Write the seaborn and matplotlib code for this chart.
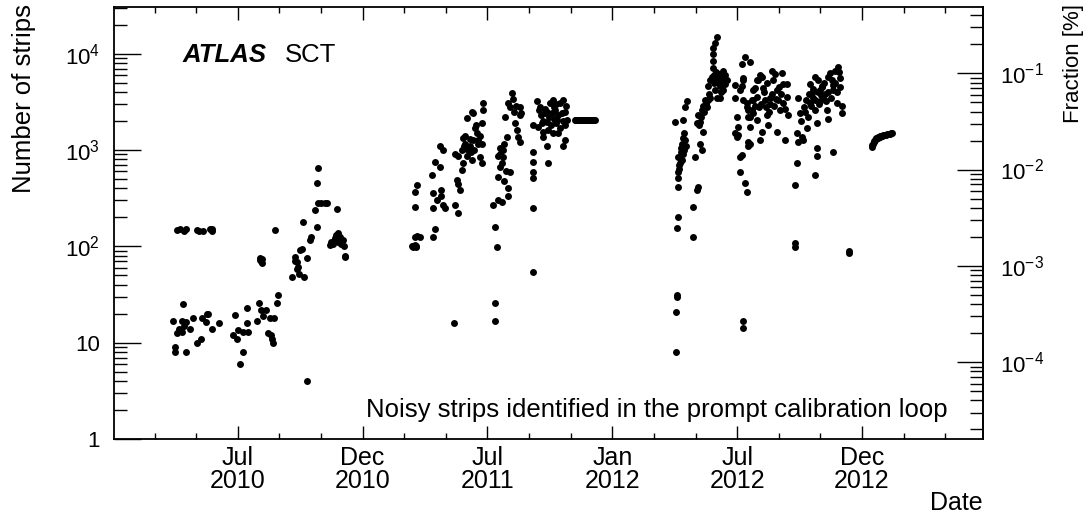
# ATLAS SCT - noisy strips found by the prompt calibration loop

import numpy as np
import pandas as pd
import seaborn as sns
import matplotlib.pyplot as plt
from matplotlib.ticker import FuncFormatter, FixedLocator, LogLocator, NullFormatter

sns.set_style('ticks')
plt.rcParams['font.family'] = ['Liberation Sans', 'DejaVu Sans']
plt.rcParams['mathtext.default'] = 'regular'
plt.rcParams['axes.unicode_minus'] = False
plt.rcParams['text.color'] = 'black'
plt.rcParams['xtick.color'] = 'black'
plt.rcParams['ytick.color'] = 'black'
plt.rcParams['axes.labelcolor'] = 'black'

# ---------------------------------------------------------
# Data: day counted from 2010-01-01, number of noisy strips
# ---------------------------------------------------------

days_2010 = [92, 96, 103, 105, 121, 125, 130, 140, 143, 144,
             87, 89, 89, 92, 95, 99, 100, 101, 103, 105, 106, 111, 115, 121, 127, 128,
             134, 136, 137, 143, 153,
             174, 177, 180, 181, 184, 188, 188, 194, 194, 196, 209, 212, 215, 218, 223,
             225, 228, 230, 231, 232, 234, 238, 240,
             213, 214, 215, 216, 217, 235, 282,
             261, 264, 265, 267, 268, 269, 270, 272, 275, 276, 278, 283, 286, 288, 294,
             297, 297, 298, 299, 303, 308, 312, 316, 318, 320, 320, 322, 323, 324, 326,
             326, 327, 328, 330, 330, 332, 335, 336, 338, 338]
strips_2010 = [148, 150, 146, 150, 148, 146, 145, 150, 146, 152,
               17, 9, 8, 12.6, 14, 17, 13, 25, 15, 16.4, 8, 14, 18, 10, 11, 18,
               16.4, 20, 20, 14, 16,
               12, 19.4, 11, 13.6, 6, 8, 13, 23, 16, 13, 17, 26, 22, 19, 22,
               12.6, 18, 12, 11, 10, 18, 26, 31,
               76, 72, 70, 68, 74, 148, 4,
               48, 78, 70, 69, 58, 61, 52, 92, 94, 179, 48, 76, 117, 125, 240,
               455, 158, 650, 282, 285, 282, 280, 103, 110, 111, 106, 115, 122, 130, 245,
               120, 138, 112, 125, 118, 105, 117, 100, 80, 78]

days_2011 = [436, 437, 438, 440, 441, 442, 440, 447, 443, 440, 440, 443,
             465, 466, 466, 466, 469, 469, 472, 477, 477, 479, 479, 481, 481, 484,
             497,
             499, 503, 501, 503, 506, 509, 510, 503, 499, 509, 510, 513, 516, 518, 520,
             523, 525, 528, 525, 523, 516, 535, 538, 538, 538, 539, 539, 532, 531,
             512, 514, 520, 522, 527, 530, 533, 536,
             554, 557, 560, 557, 557, 561, 567, 576, 576, 561, 564, 567, 569, 561, 564,
             569, 575, 579, 572, 579, 582, 576, 586, 589, 591, 594, 594, 595, 594,
             565, 570, 573, 571, 585, 588, 583,
             613, 613, 613, 613, 613, 613, 613, 618, 620, 623, 626, 627, 627, 630, 633,
             633, 635, 637, 640, 642, 645, 648, 649, 652, 655, 657, 657, 659, 662, 659,
             642, 635,
             625, 628, 631, 636, 639, 644, 646, 650, 653, 656, 660, 661, 647, 643, 634, 622,
             674, 675, 676, 678, 679, 680, 682, 683, 685, 686, 688, 689, 691, 692, 694,
             695, 697, 698, 700, 701, 703]
strips_2011 = [100, 98, 102, 104, 99, 101, 125, 125, 128, 256, 370, 435,
               550, 125, 250, 360, 150, 750, 300, 1090, 670, 385, 330, 1000, 270, 250,
               16,
               270, 220, 490, 440, 385, 620, 730, 860, 900, 1000, 1330, 1170, 860, 1000, 1090,
               790, 1270, 1690, 2420, 2500, 2150, 850, 1170, 730, 1900, 3050, 2600, 1270, 1500,
               1100, 1400, 1300, 950, 1000, 1800, 1150, 1400,
               270, 160, 98, 26, 17, 300, 290, 400, 330, 525, 670, 730, 850, 860, 1050,
               1000, 1370, 590, 2200, 2820, 3900, 3050, 1900, 1620, 1370, 1200, 2300, 2400, 2820,
               900, 1150, 600, 480, 2500, 2900, 3400,
               250, 54, 950, 750, 590, 510, 1820, 3200, 1750, 2820, 1900, 1540, 1370, 2420, 1960,
               1090, 730, 3050, 2420, 3300, 2600, 2050, 1500, 3050, 2420, 3300, 1090, 1270, 2050, 1820,
               1500, 1620,
               2300, 2000, 2700, 2200, 1800, 2100, 1900, 2300, 1700, 2000, 2500, 2900, 3000, 2800, 2500, 2600,
               2040, 2050, 2060, 2050, 2040, 2050, 2060, 2050, 2050, 2040, 2050, 2050, 2060, 2050, 2050,
               2040, 2050, 2050, 2050, 2050, 2040]

days_2012 = [822, 822, 823, 823, 823, 825, 825, 825, 825, 828, 828, 831, 832, 825, 831,
             832, 835, 820, 832, 835, 838,
             826, 827, 829, 830, 833, 834, 836,
             847, 847, 850, 853, 854, 857, 860, 861, 853, 854, 857, 860, 861, 864, 867,
             869, 872, 869, 872, 874, 876, 876, 876, 876, 879, 882, 879, 882, 883, 886,
             889, 891, 893, 896, 891, 886,
             877, 878, 880, 881, 884, 885, 887, 888, 890, 892, 894, 870, 866, 863, 859, 856,
             908, 911, 911, 912, 915, 918, 923, 926, 918, 923, 930, 920, 915, 920, 926,
             927, 930, 930, 933, 934, 937, 940, 940, 920, 920,
             908, 908, 912, 915, 918, 920, 926, 927, 927, 927, 930, 933, 934, 934, 937,
             942, 945, 945, 948, 948, 949, 952, 955, 955, 956, 959, 962, 964, 967, 970,
             970, 971, 974, 977, 978, 981, 984, 986,
             950, 953, 958, 960, 963, 966, 968, 972, 975, 979, 982, 985, 940, 943, 946,
             996, 996, 996, 999, 999, 1000, 1000, 1003, 1006, 1008, 1011, 1013, 1015, 1018,
             1018, 1021, 1022, 1025, 1025, 1025, 1028, 1028, 1028, 1030, 1032, 1032, 1035,
             1037, 1040, 1043, 1044, 1044, 1047, 1050, 1051, 1051, 1054, 1057, 1059, 1062,
             1062, 1065, 1065,
             1005, 1009, 1012, 1016, 1019, 1023, 1026, 1029, 1031, 1034, 1036, 1039, 1041,
             1045, 1048, 1052, 1055, 1058, 1060,
             1075, 1075]
strips_2012 = [8, 21, 30, 31, 155, 200, 410, 510, 590, 730, 850, 790, 900, 850, 1170,
               1330, 1270, 1960, 2050, 2820, 3200,
               640, 700, 950, 1050, 1000, 1500, 1100,
               256, 125, 850, 385, 410, 1170, 1000, 1540, 1900, 2300, 1960, 2600, 2900, 3300, 2820,
               3300, 3500, 4600, 5300, 5700, 7100, 8500, 10000, 11500, 13000, 15000, 4200, 3500, 5300, 4600,
               5700, 6600, 4900, 5300, 4200, 3500,
               6000, 5000, 5500, 6500, 5000, 6200, 5200, 4000, 5000, 5600, 6000, 3800, 3000, 2500, 2200, 1800,
               4700, 2200, 1370, 1750, 590, 890, 455, 370, 7900, 9300, 8300, 5600, 4200, 3300, 2820,
               2200, 1750, 1170, 2600, 3300, 4400, 5300, 2050, 16.8, 14.2,
               3500, 1500, 1450, 850, 4600, 5300, 3050, 2600, 1200, 1100, 2200, 3300, 4200, 2420, 2900,
               5300, 6000, 1270, 1540, 5700, 4400, 3300, 5000, 2300, 1820, 3500, 6600, 5300, 6200, 4200,
               1540, 3300, 2600, 6300, 4900, 1270, 4800, 2300,
               4000, 2800, 2500, 3000, 3800, 2900, 3400, 4500, 3800, 3100, 2700, 3600, 3600, 2800, 3000,
               98, 108, 435, 730, 1500, 1200, 3500, 2420, 1370, 1270, 2500, 1700, 2200, 3050,
               4900, 3900, 3500, 5700, 2600, 550, 1050, 860, 1900, 5300, 4200, 3200, 4600,
               3500, 3800, 2600, 2100, 5700, 6300, 5300, 4700, 950, 6600, 3050, 7300, 5600,
               4500, 2900, 2420,
               2000, 2800, 3300, 3800, 2900, 4300, 3300, 4000, 3000, 3700, 4500, 5000, 3200,
               4000, 3500, 4200, 5000, 4000, 6500,
               86, 90]

days_2013 = [1108, 1109, 1110, 1111, 1112, 1113, 1114, 1115, 1116, 1117, 1118, 1119, 1120,
             1121, 1122, 1123, 1124, 1125, 1126, 1127, 1129, 1131, 1133, 1135, 1137, 1138]
strips_2013 = [1080, 1130, 1170, 1210, 1250, 1280, 1300, 1320, 1340, 1350, 1360, 1370, 1380,
               1390, 1400, 1405, 1410, 1420, 1430, 1440, 1450, 1460, 1470, 1480, 1490, 1500]

tick_labels = ['Jul\n2010', 'Dec\n2010', 'Jul\n2011', 'Jan\n2012', 'Jul\n2012', 'Dec\n2012']

TOTAL_STRIPS = 6279168

frames = []
for d, n in [(days_2010, strips_2010), (days_2011, strips_2011),
             (days_2012, strips_2012), (days_2013, strips_2013)]:
    frames.append(pd.DataFrame({'day': d, 'strips': n}))
df = pd.concat(frames, ignore_index=True)
df['date'] = pd.to_datetime(df['day'], unit='D', origin='2010-01-01')

# ---------------------------------------------------------
# Plot
# ---------------------------------------------------------

fig = plt.figure(figsize=(10.92, 5.18), dpi=100)
ax = fig.add_axes([114 / 1092, 79 / 518, 869 / 1092, 432 / 518])

sns.scatterplot(data=df, x='date', y='strips', ax=ax, color='black',
                s=25, linewidth=0, legend=False)

ax.set_yscale('log')
ax.set_ylim(1, 3.06e4)
ax.set_xlim(pd.Timestamp('2010-01-01'), pd.Timestamp('2013-06-25'))
ax.set_xlabel('')
ax.set_ylabel('')

# ROOT style time axis: evenly spaced divisions
start = pd.Timestamp('2010-07-01')
step = pd.Timedelta(days=182.6)
ax.set_xticks([start + step * k for k in range(6)])
ax.set_xticklabels(tick_labels)
ax.set_xticks([start + step * (k / 3) for k in range(-2, 18) if k % 3 != 0], minor=True)
for lbl in ax.get_xticklabels():
    lbl.set_linespacing(0.95)

ax.yaxis.set_major_locator(LogLocator(base=10))
ax.yaxis.set_minor_locator(LogLocator(base=10, subs=np.arange(2, 10)))
ax.yaxis.set_major_formatter(FuncFormatter(
    lambda v, p: '1' if v == 1 else ('10' if v == 10 else f'$10^{{{int(round(np.log10(v)))}}}$')))
ax.yaxis.set_minor_formatter(NullFormatter())

ax.tick_params(axis='x', which='major', direction='in', length=9.5, width=1,
               top=True, bottom=True, labelsize=18, pad=5)
ax.tick_params(axis='x', which='minor', direction='in', length=4.5, width=1,
               top=True, bottom=True)
ax.tick_params(axis='y', which='major', direction='in', length=19.5, width=1,
               left=True, right=False, labelsize=16, pad=10)
ax.tick_params(axis='y', which='minor', direction='in', length=9.5, width=1,
               left=True, right=False)

for sp in ax.spines.values():
    sp.set_color('black')
    sp.set_linewidth(1.3)

# right axis: fraction of all SCT strips
sec = ax.secondary_yaxis('right', functions=(lambda n: n / TOTAL_STRIPS * 100,
                                             lambda f: f * TOTAL_STRIPS / 100))
sec.yaxis.set_major_locator(FixedLocator([1e-4, 1e-3, 1e-2, 1e-1]))
sec.yaxis.set_minor_locator(LogLocator(base=10, subs=np.arange(2, 10)))
sec.yaxis.set_minor_formatter(NullFormatter())
sec.tick_params(which='major', direction='in', length=19, width=1, labelsize=16, pad=12)
sec.tick_params(which='minor', direction='in', length=9.5, width=1)
sec.spines['right'].set_color('black')
sec.spines['right'].set_linewidth(1.3)

# texts
fig.text(183 / 1092, 1 - 62 / 518, 'ATLAS', fontsize=18.5, fontweight='bold',
         fontstyle='italic', va='baseline')
fig.text(285 / 1092, 1 - 62 / 518, 'SCT', fontsize=18.5, va='baseline')
fig.text(948 / 1092, 1 - 417 / 518, 'Noisy strips identified in the prompt calibration loop',
         fontsize=18.5, ha='right', va='baseline')
fig.text(983 / 1092, 1 - 510 / 518, 'Date', fontsize=18, ha='right', va='baseline')
fig.text(24 / 1092, 1 - 4 / 518, 'Number of strips', fontsize=18.5, rotation=90,
         ha='center', va='top')
fig.text(1074 / 1092, 1 - 4 / 518, 'Fraction [%]', fontsize=16, rotation=90,
         ha='center', va='top')

fig.savefig('out.png', dpi=100)
